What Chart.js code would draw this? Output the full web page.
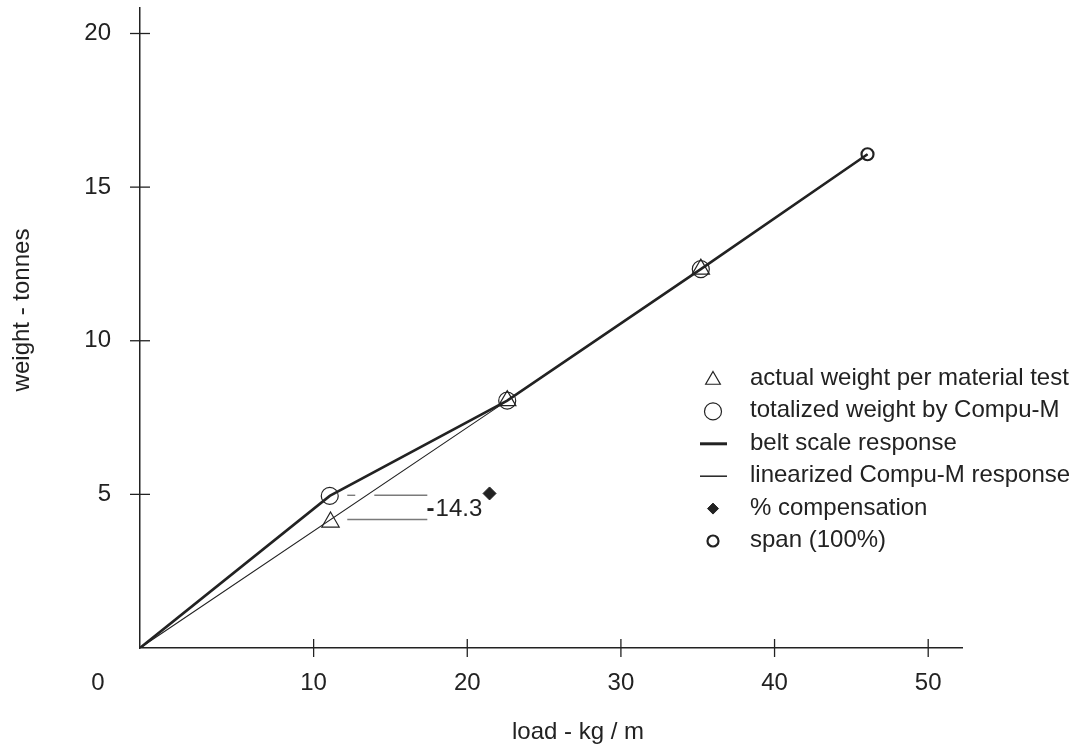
<!DOCTYPE html>
<html>
<head>
<meta charset="utf-8">
<title>belt scale response</title>
<script src="https://cdn.jsdelivr.net/npm/chart.js@4.4.1/dist/chart.umd.min.js"></script>
<style>
  body { margin: 0; background: #fff; }
  #wrap { width: 1076px; height: 746px; }
</style>
</head>
<body>
<div id="wrap"><canvas id="myChart"></canvas></div>
<script>
// values: x = load (kg/m), y = weight (tonnes)
const xStart = -1.3;            // both response lines start in the axis corner
const xEnd = 52.2;
const yEnd = 20.83;
const testLoads = [11.1, 22.6, 35.2];
const actualWeight = [4.1, 8.05, 12.33];
const totalLoads = [11.05, 22.6, 35.2];
const totalizedWeight = [4.95, 8.05, 12.33];
const beltLoads = [xStart, 11.05, 22.6, 35.2, 46.05];
const beltWeight = [0, 4.95, 8.05, 12.33, 16.07];
const linLoads = [xStart, 22.6, 35.2, 46.05];
const linWeight = [0, 8.05, 12.33, 16.07];
const compLoad = [21.45];
const compWeight = [5.03];
const spanLoad = [46.05];
const spanWeight = [16.07];
const compText = '14.3';
const compTextAt = [17.35, 4.28];
// leader lines from the -14.3 label back to the 11 kg/m points
const leaderTop1 = [[12.19, 4.97], [12.71, 4.97]];
const leaderTop2 = [[13.95, 4.97], [17.4, 4.97]];
const leaderLow = [[12.19, 4.18], [17.4, 4.18]];
const xTicks = [10, 20, 30, 40, 50];
const yTicks = [5, 10, 15, 20];

const ink = '#222';
const fam = '"Liberation Sans", Arial, Helvetica, sans-serif';

function pts(xs, ys) { return xs.map((x, i) => ({x: x, y: ys[i]})); }
function pairs(p) { return p.map(a => ({x: a[0], y: a[1]})); }

const lineSet = (data, w, col) => ({
  data: data, showLine: true, borderColor: col || ink, borderWidth: w,
  pointRadius: 0, fill: false
});
const markSet = (label, data, style, r, bw, filled) => ({
  label: label, data: data, showLine: false, pointStyle: style,
  pointRadius: r, pointBorderWidth: bw, pointBorderColor: ink,
  pointBackgroundColor: filled ? ink : 'rgba(0,0,0,0)'
});

const belt = lineSet(pts(beltLoads, beltWeight), 2.6);
belt.label = 'belt scale response';
const lin = lineSet(pts(linLoads, linWeight), 1.1);
lin.label = 'linearized Compu-M response';
const actual = markSet('actual weight per material test', pts(testLoads, actualWeight), 'triangle', 10, 1.2, false);
const total = markSet('totalized weight by Compu-M', pts(totalLoads, totalizedWeight), 'circle', 8.5, 1.2, false);
const comp = markSet('% compensation', pts(compLoad, compWeight), 'rectRot', 6.5, 1, true);
const span = markSet('span (100%)', pts(spanLoad, spanWeight), 'circle', 6, 2.2, false);

const legendItems = [actual, total, belt, lin, comp, span];

// crossing tick marks, corner "0", axis titles, the -14.3 label and the legend
const extras = {
  id: 'extras',
  afterDraw(chart) {
    const ctx = chart.ctx;
    const xs = chart.scales.x, ys = chart.scales.y;
    const x0 = xs.left, y0 = ys.bottom;
    ctx.save();
    ctx.strokeStyle = ink;
    ctx.lineWidth = 1.3;
    xTicks.forEach(v => {
      const px = xs.getPixelForValue(v);
      ctx.beginPath(); ctx.moveTo(px, y0 - 9); ctx.lineTo(px, y0 + 9); ctx.stroke();
    });
    yTicks.forEach(v => {
      const py = ys.getPixelForValue(v);
      ctx.beginPath(); ctx.moveTo(x0 - 10, py); ctx.lineTo(x0 + 10, py); ctx.stroke();
    });

    ctx.fillStyle = ink;
    ctx.font = '24px ' + fam;
    ctx.textAlign = 'center';
    ctx.textBaseline = 'middle';
    ctx.fillText('0', 98, 683);

    ctx.textAlign = 'left';
    ctx.fillText('load - kg / m', 512, 732);
    ctx.save();
    ctx.translate(22, 310);
    ctx.rotate(-Math.PI / 2);
    ctx.textAlign = 'center';
    ctx.fillText('weight - tonnes', 0, 0);
    ctx.restore();

    // the minus sign is printed heavier than the digits
    ctx.textAlign = 'left';
    ctx.textBaseline = 'alphabetic';
    const tx = xs.getPixelForValue(compTextAt[0]), ty = ys.getPixelForValue(compTextAt[1]);
    ctx.font = 'bold 24px ' + fam;
    ctx.fillText('-', tx, ty);
    ctx.font = '24px ' + fam;
    ctx.fillText(compText, tx + 9, ty);

    // legend
    legendItems.forEach((ds, i) => {
      const by = 385 + i * 32.4;
      const cy = by - 7;
      if (ds.pointRadius > 0) {
        ctx.strokeStyle = ink;
        ctx.fillStyle = ds.pointBackgroundColor;
        ctx.lineWidth = ds.pointBorderWidth;
        const r = ds.pointStyle === 'triangle' ? 8.5 : (ds.pointRadius > 8 ? 8.5 : 5.5);
        Chart.helpers.drawPoint(ctx, {pointStyle: ds.pointStyle, radius: r, borderWidth: ds.pointBorderWidth}, 713, cy + (ds.pointStyle === 'triangle' ? 2 : 1));
      } else {
        ctx.strokeStyle = ink;
        ctx.lineWidth = ds.borderWidth + 0.4;
        ctx.beginPath(); ctx.moveTo(700, cy + 1); ctx.lineTo(727, cy + 1); ctx.stroke();
      }
      ctx.fillStyle = ink;
      ctx.fillText(ds.label, 750, by);
    });
    ctx.restore();
  }
};

new Chart(document.getElementById('myChart'), {
  type: 'scatter',
  data: {
    datasets: [
      belt, lin,
      lineSet(pairs(leaderTop1), 1.4, '#7a7a7a'),
      lineSet(pairs(leaderTop2), 1.4, '#7a7a7a'),
      lineSet(pairs(leaderLow), 1.4, '#7a7a7a'),
      actual, total, comp, span
    ]
  },
  options: {
    responsive: true,
    maintainAspectRatio: false,
    animation: false,
    layout: { autoPadding: false, padding: { top: 8, right: 114, left: 0, bottom: 0 } },
    plugins: { legend: { display: false }, tooltip: { enabled: false } },
    scales: {
      x: {
        type: 'linear', min: xStart, max: xEnd,
        afterBuildTicks: s => { s.ticks = xTicks.map(v => ({value: v})); },
        afterFit: s => { s.height = 98; s.paddingLeft = 0; s.paddingRight = 0; },
        grid: { display: false, drawTicks: false },
        border: { color: ink, width: 1.5 },
        ticks: { color: ink, font: { size: 24, family: fam }, padding: 21, maxRotation: 0, autoSkip: false }
      },
      y: {
        type: 'linear', min: 0, max: yEnd,
        afterBuildTicks: s => { s.ticks = yTicks.map(v => ({value: v})); },
        afterFit: s => { s.width = 140; s.paddingTop = 0; s.paddingBottom = 0; },
        grid: { display: false, drawTicks: false },
        border: { color: ink, width: 1.5 },
        ticks: { color: ink, font: { size: 24, family: fam }, padding: 29, autoSkip: false }
      }
    }
  },
  plugins: [extras]
});
</script>
</body>
</html>
